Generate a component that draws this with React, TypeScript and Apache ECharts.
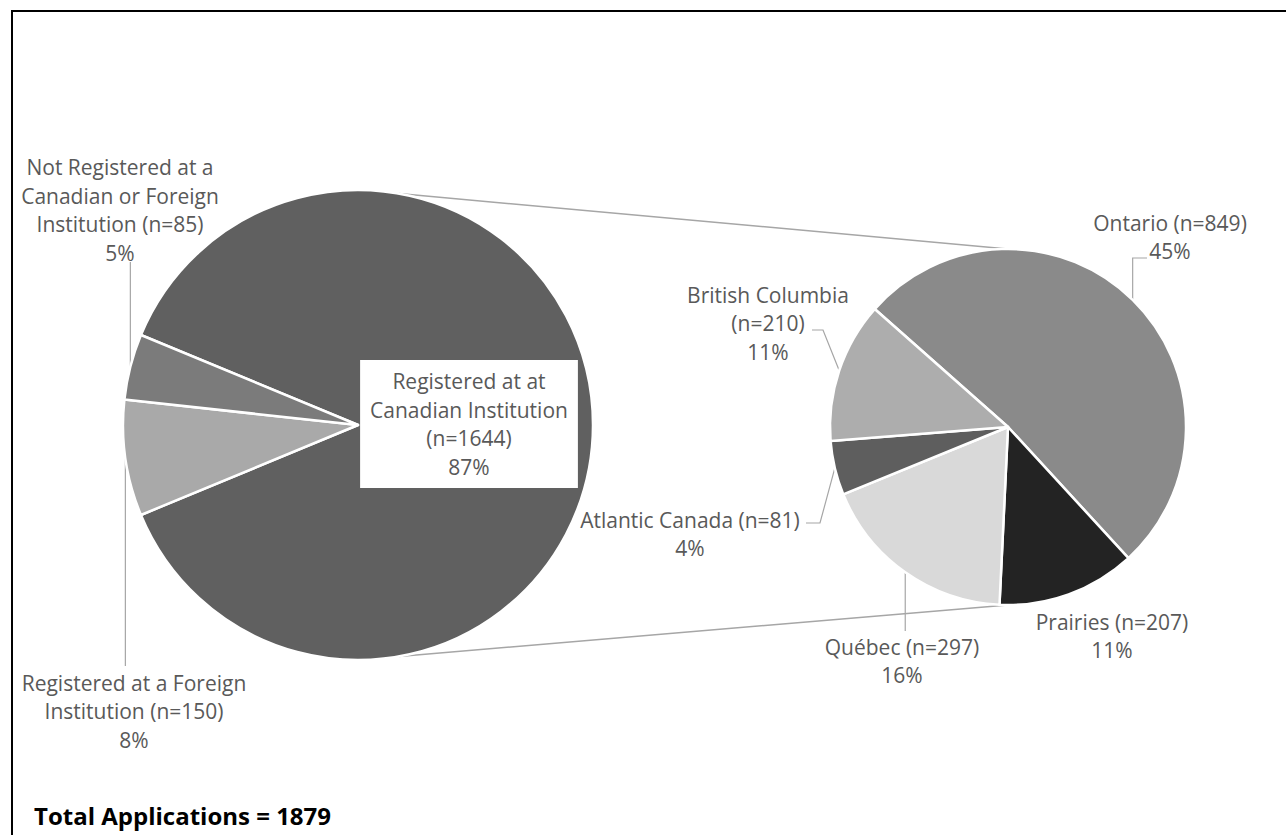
import React, { useEffect, useRef } from "react";
import * as echarts from "echarts";

// ---- Data ----
const totalLabel = "Total Applications";
const mainNames = [
  "Registered at at\nCanadian Institution",
  "Registered at a Foreign\nInstitution",
  "Not Registered at a\nCanadian or Foreign\nInstitution",
];
const mainValues = [1644, 150, 85];
const mainNSep = ["\n", " ", " "];

const provNames = ["Ontario", "Prairies", "Québec", "Atlantic Canada", "British Columbia"];
const provValues = [849, 207, 297, 81, 210];
const provNSep = [" ", " ", " ", " ", "\n"];

// ---- Styles / layout ----
const mainColors = ["#606060", "#a9a9a9", "#7b7b7b"];
const provColors = ["#8a8a8a", "#232323", "#d9d9d9", "#5e5e5e", "#adadad"];
const mainLabelPos = [
  [469, 424],
  [134, 711],
  [120, 210],
];
const provLabelPos = [
  [1170, 237],
  [1112, 636],
  [902, 661],
  [690, 534],
  [768, 323],
];
// leader-line routes after the slice anchor
const mainRoutes: any[] = [null, [["a", 666]], [["a", 262]]];
const provRoutes: any[] = [
  [["a", 258], [1147, 258]],
  null,
  [["a", 631]],
  [[820, 523], [806, 523]],
  [[823, 330], [812, 330]],
];
const LEFT = { cx: 358, cy: 425, r: 235 };
const RIGHT = { cx: 1008, cy: 427, r: 178, start: 138.5 };
const FONT = "'Open Sans', Lato, sans-serif";
const TEXT = "#595959";

function anchors(values: number[], start: number, c: { cx: number; cy: number; r: number }) {
  const tot = values.reduce((a, b) => a + b, 0);
  let a = start;
  return values.map((v) => {
    const span = (v / tot) * 360;
    const mid = ((a - span / 2) * Math.PI) / 180;
    a -= span;
    return [c.cx + c.r * Math.cos(mid), c.cy - c.r * Math.sin(mid)];
  });
}

function buildLine(anchor: number[], route: any[] | null) {
  if (!route) return undefined;
  const pts = [anchor];
  route.forEach((p) => pts.push([p[0] === "a" ? anchor[0] : p[0], p[1]]));
  if (pts.length === 2) pts.splice(1, 0, [(pts[0][0] + pts[1][0]) / 2, (pts[0][1] + pts[1][1]) / 2]);
  return pts;
}

export default function App() {
  const ref = useRef<HTMLDivElement>(null);
  useEffect(() => {
    if (!ref.current) return;
    const chart = echarts.init(ref.current, undefined, { renderer: "svg" });
    const total = mainValues.reduce((a, b) => a + b, 0);
    const pct = (v: number) => Math.round((v / total) * 100) + "%";
    const othersShare = (mainValues[1] + mainValues[2]) / total;
    const leftStart = 180 - (othersShare * 360) / 2;
    const mainAnchors = anchors(mainValues, leftStart, LEFT);
    const provAnchors = anchors(provValues, RIGHT.start, RIGHT);

    const mainData = mainValues.map((v, i) => ({
      value: v,
      name: mainNames[i],
      itemStyle: { color: mainColors[i] },
      label:
        i === 0
          ? { backgroundColor: "#ffffff", padding: [8, 10, 6, 10] }
          : {},
      labelLine: { show: i !== 0 },
      _lbl: `${mainNames[i]}${mainNSep[i]}(n=${v})\n${pct(v)}`,
    }));
    const provData = provValues.map((v, i) => ({
      value: v,
      name: provNames[i],
      itemStyle: { color: provColors[i] },
      labelLine: { show: i !== 1 },
      _lbl: `${provNames[i]}${provNSep[i]}(n=${v})\n${pct(v)}`,
    }));

    const connAng = (80 * Math.PI) / 180;
    const lx = LEFT.cx + LEFT.r * Math.cos(connAng);
    const lyTop = LEFT.cy - LEFT.r * Math.sin(connAng);
    const lyBot = LEFT.cy + LEFT.r * Math.sin(connAng);

    const common = {
      type: "pie",
      clockwise: true,
      avoidLabelOverlap: false,
      emphasis: { disabled: true },
      itemStyle: { borderColor: "#ffffff", borderWidth: 2.5 },
      label: {
        show: true,
        position: "outside",
        color: TEXT,
        fontFamily: FONT,
        fontSize: 21,
        lineHeight: 28.5,
        align: "center",
        formatter: (p: any) => p.data._lbl,
      },
      labelLine: {
        show: true,
        length: 10,
        length2: 10,
        smooth: false,
        lineStyle: { color: "#a6a6a6", width: 1.2 },
      },
    };

    chart.setOption({
      animation: false,
      backgroundColor: "#ffffff",
      graphic: [
        {
          type: "rect",
          shape: { x: 12, y: 11, width: 1400, height: 1000 },
          style: { fill: "none", stroke: "#000000", lineWidth: 2 },
          silent: true,
        },
        {
          type: "line",
          shape: { x1: lx, y1: lyTop, x2: RIGHT.cx, y2: RIGHT.cy - RIGHT.r },
          style: { stroke: "#a6a6a6", lineWidth: 1.5 },
          silent: true,
        },
        {
          type: "line",
          shape: { x1: lx, y1: lyBot, x2: RIGHT.cx, y2: RIGHT.cy + RIGHT.r },
          style: { stroke: "#a6a6a6", lineWidth: 1.5 },
          silent: true,
        },
        {
          type: "text",
          x: 34,
          y: 815,
          style: {
            text: `${totalLabel} = ${total}`,
            font: `bold 24px ${FONT}`,
            fill: "#000000",
            verticalAlign: "middle",
          },
          silent: true,
        },
      ],
      series: [
        {
          ...common,
          center: [LEFT.cx, LEFT.cy],
          radius: LEFT.r,
          startAngle: leftStart,
          data: mainData,
          labelLayout: (p: any) => {
            const i = p.dataIndex;
            const o: any = {
              x: mainLabelPos[i][0],
              y: mainLabelPos[i][1],
              align: "center",
              verticalAlign: "middle",
            };
            const pts = buildLine(mainAnchors[i], mainRoutes[i]);
            if (pts) o.labelLinePoints = pts;
            return o;
          },
        },
        {
          ...common,
          center: [RIGHT.cx, RIGHT.cy],
          radius: RIGHT.r,
          startAngle: RIGHT.start,
          data: provData,
          labelLayout: (p: any) => {
            const i = p.dataIndex;
            const o: any = {
              x: provLabelPos[i][0],
              y: provLabelPos[i][1],
              align: "center",
              verticalAlign: "middle",
            };
            const pts = buildLine(provAnchors[i], provRoutes[i]);
            if (pts) o.labelLinePoints = pts;
            return o;
          },
        },
      ],
    });
    return () => chart.dispose();
  }, []);
  return (
    <div
      ref={ref}
      style={{ position: "fixed", left: 0, top: 0, width: 1286, height: 835 }}
    />
  );
}
